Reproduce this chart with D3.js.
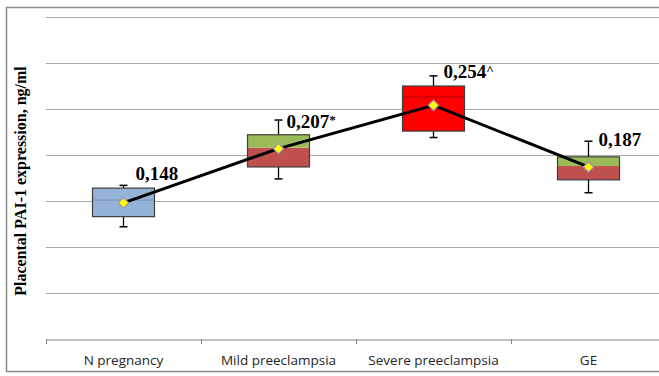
<!DOCTYPE html>
<html>
<head>
<meta charset="utf-8">
<script src="https://cdn.jsdelivr.net/npm/d3@7"></script>
<style>
  body { margin: 0; background: #fff; }
  svg { display: block; }
</style>
</head>
<body>
<svg id="chart" width="659" height="376"></svg>
<script>
// data (ng/ml)
const categories = ["N pregnancy", "Mild preeclampsia", "Severe preeclampsia", "GE"]
const means = [0.148, 0.207, 0.254, 0.187]
const meanLabels = ["0,148", "0,207", "0,254", "0,187"]
const labelMarks = ["", "*", "^", ""]
const whiskerLow = [0.122, 0.174, 0.219, 0.159]
const q1 = [0.133, 0.187, 0.226, 0.173]
const medians = [0.151, 0.208, 0.263, 0.188]
const q3 = [0.164, 0.222, 0.275, 0.198]
const whiskerHigh = [0.167, 0.238, 0.286, 0.215]
const yTicks = [0, 0.05, 0.1, 0.15, 0.2, 0.25, 0.3, 0.35]

// fills for lower (q1-median) and upper (median-q3) parts
const lowerColors = ["#95b3d7", "#c0504d", "#ff0000", "#c0504d"]
const upperColors = ["#95b3d7", "#9bbb59", "#ff0000", "#9bbb59"]
const medianLine = ["#7a8fae", null, "#b00000", null]
// label nudges (layout only)
const labelDx = [12, 8, 10, 10]
const labelDy = [-23, -21, -27, -21]

const svg = d3.select("#chart")
const margin = { left: 46, top: 17, bottom: 339 }

// outer frame
svg.append("rect")
    .attr("x", 6.5).attr("y", 7.5)
    .attr("width", 720).attr("height", 364)
    .attr("fill", "#fff")
    .attr("stroke", "#8c8c8c")
    .attr("stroke-width", 1.5)

const x = d3.scaleBand()
    .domain(categories)
    .range([margin.left, margin.left + 155 * 4])

const y = d3.scaleLinear()
    .domain([0, 0.35])
    .range([margin.bottom, margin.top])

// gridlines
svg.append("g")
    .selectAll("line")
    .data(yTicks.slice(1))
    .enter().append("line")
    .attr("x1", margin.left).attr("x2", 700)
    .attr("y1", d => Math.round(y(d)) + 0.5)
    .attr("y2", d => Math.round(y(d)) + 0.5)
    .attr("stroke", "#a8a8a8")

// x axis
const xAxis = d3.axisBottom(x).tickSize(0).tickSizeOuter(0)
const gx = svg.append("g")
    .attr("transform", `translate(0,${Math.round(y(0)) + 0.5})`)
    .call(xAxis)
gx.select("path.domain").attr("stroke", "#868686")
gx.selectAll("text")
    .attr("dy", 0)
    .attr("y", 25)
    .style("font-family", "'Open Sans', sans-serif")
    .style("font-size", "13.5px")
    .attr("fill", "#262626")

// category separators
svg.append("g")
    .selectAll("line")
    .data(categories)
    .enter().append("line")
    .attr("x1", d => Math.round(x(d)) + 0.5)
    .attr("x2", d => Math.round(x(d)) + 0.5)
    .attr("y1", Math.round(y(0)))
    .attr("y2", Math.round(y(0)) + 5)
    .attr("stroke", "#868686")

const boxW = x.bandwidth() * 0.4
const cx = i => x(categories[i]) + x.bandwidth() / 2

const boxes = svg.append("g")
    .selectAll("g")
    .data(categories)
    .enter().append("g")

// whiskers
boxes.append("line")
    .attr("x1", (d, i) => cx(i)).attr("x2", (d, i) => cx(i))
    .attr("y1", (d, i) => y(whiskerLow[i]))
    .attr("y2", (d, i) => y(whiskerHigh[i]))
    .attr("stroke", "#000").attr("stroke-width", 1.3)
boxes.append("line")
    .attr("x1", (d, i) => cx(i) - 4).attr("x2", (d, i) => cx(i) + 4)
    .attr("y1", (d, i) => y(whiskerHigh[i]))
    .attr("y2", (d, i) => y(whiskerHigh[i]))
    .attr("stroke", "#000").attr("stroke-width", 1.5)
boxes.append("line")
    .attr("x1", (d, i) => cx(i) - 4).attr("x2", (d, i) => cx(i) + 4)
    .attr("y1", (d, i) => y(whiskerLow[i]))
    .attr("y2", (d, i) => y(whiskerLow[i]))
    .attr("stroke", "#000").attr("stroke-width", 1.5)

// lower and upper box parts
boxes.append("rect")
    .attr("x", (d, i) => cx(i) - boxW / 2)
    .attr("width", boxW)
    .attr("y", (d, i) => y(medians[i]))
    .attr("height", (d, i) => y(q1[i]) - y(medians[i]))
    .attr("fill", (d, i) => lowerColors[i])
boxes.append("rect")
    .attr("x", (d, i) => cx(i) - boxW / 2)
    .attr("width", boxW)
    .attr("y", (d, i) => y(q3[i]))
    .attr("height", (d, i) => y(medians[i]) - y(q3[i]))
    .attr("fill", (d, i) => upperColors[i])
boxes.filter((d, i) => medianLine[i])
    .append("line")
    .attr("x1", function (d) { return cx(categories.indexOf(d)) - boxW / 2 })
    .attr("x2", function (d) { return cx(categories.indexOf(d)) + boxW / 2 })
    .attr("y1", d => y(medians[categories.indexOf(d)]))
    .attr("y2", d => y(medians[categories.indexOf(d)]))
    .attr("stroke", d => medianLine[categories.indexOf(d)])
    .attr("stroke-width", 1)
boxes.append("rect")
    .attr("x", (d, i) => cx(i) - boxW / 2)
    .attr("width", boxW)
    .attr("y", (d, i) => y(q3[i]))
    .attr("height", (d, i) => y(q1[i]) - y(q3[i]))
    .attr("fill", "none")
    .attr("stroke", "#3d3d3d")
    .attr("stroke-width", 1.2)

// mean line
const line = d3.line()
    .x((d, i) => cx(i))
    .y(d => y(d))
svg.append("path")
    .datum(means)
    .attr("d", line)
    .attr("fill", "none")
    .attr("stroke", "#000")
    .attr("stroke-width", 3)

// mean markers
svg.append("g")
    .selectAll("path")
    .data(means)
    .enter().append("path")
    .attr("d", d3.symbol(d3.symbolDiamond2, 70))
    .attr("transform", (d, i) => `translate(${cx(i)},${y(d)})`)
    .attr("fill", "#ffff00")
    .attr("stroke", "#9a8fb0")
    .attr("stroke-width", 1.2)

// value labels
const labels = svg.append("g")
    .selectAll("text")
    .data(meanLabels)
    .enter().append("text")
    .attr("x", (d, i) => cx(i) + labelDx[i])
    .attr("y", (d, i) => y(means[i]) + labelDy[i])
    .style("font-family", "'Liberation Serif', 'Times New Roman', serif")
    .style("font-weight", "bold")
    .style("font-size", "19px")
    .attr("fill", "#000")
labels.append("tspan").text(d => d)
labels.append("tspan")
    .style("font-size", "13px")
    .attr("dy", -4)
    .text((d, i) => labelMarks[i])

// y title
svg.append("text")
    .attr("transform", "translate(26,181) rotate(-90)")
    .attr("text-anchor", "middle")
    .style("font-family", "'Liberation Serif', 'Times New Roman', serif")
    .style("font-weight", "bold")
    .style("font-size", "16px")
    .text("Placental PAI-1 expression, ng/ml")
</script>
</body>
</html>
